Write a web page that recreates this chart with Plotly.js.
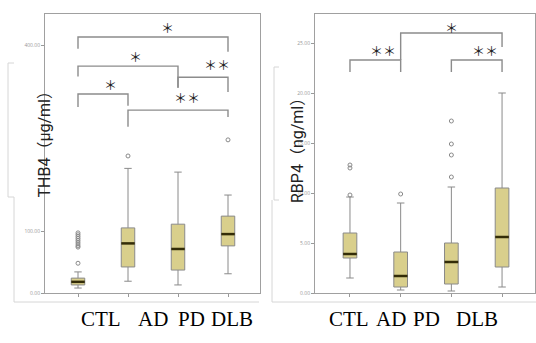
<!DOCTYPE html>
<html><head><meta charset="utf-8">
<script src="https://cdn.plot.ly/plotly-3.0.1.min.js"></script>
<style>html,body{margin:0;padding:0;background:#fff}#c{width:536px;height:343px}</style>
</head><body><div id="c"></div>
<script>
// ---- data ----
var categories = ["CTL", "AD", "PD", "DLB"];
// THB4 (left)
var thbQ1 = [13, 42, 37, 76];
var thbMedian = [18, 80, 71, 95];
var thbQ3 = [24, 105, 111, 124];
var thbLow = [8, 19, 13, 31];
var thbHigh = [34, 201, 195, 158];
var thbOutliers = [[48, 74, 76, 79, 82, 85, 88, 91, 94, 97], [221], [], [247]];
// RBP4 (right)
var rbpQ1 = [3.5, 0.6, 0.9, 2.6];
var rbpMedian = [3.9, 1.7, 3.1, 5.6];
var rbpQ3 = [6.0, 4.1, 5.0, 10.5];
var rbpLow = [1.5, 0.3, 0.2, 0.6];
var rbpHigh = [9.6, 9.0, 10.6, 20.0];
var rbpOutliers = [[9.8, 12.5, 12.8], [9.9], [11.6, 13.8, 14.9, 17.2], []];
// significance brackets: [from, to, top, legFrom, legTo]
var thbBrackets = [[0, 3, 413, 394, 389], [0, 2, 366, 349, 331], [2, 3, 348, 331, 324], [0, 1, 321, 300, 302], [1, 3, 295, 268, 284]];
var thbStars = [["＊", 1.78, 429], ["＊", 1.14, 382], ["＊＊", 2.78, 368], ["＊", 0.64, 337], ["＊＊", 2.18, 315]];
var rbpBrackets = [[0, 1, 23.3, 22.1, 22.1], [2, 3, 23.3, 22.1, 22.1], [1, 3, 26.0, 23.3, 24.6]];
var rbpStars = [["＊＊", 0.65, 24.3], ["＊＊", 2.66, 24.3], ["＊", 2.01, 26.6]];
var thbTicks = [0, 100, 400];
var rbpTicks = [0, 5, 10, 15, 20, 25];

// ---- helpers ----
var W = 536, H = 343;
function px(x) { return x / W; }
function py(y) { return 1 - y / H; }
var idx = categories.map(function (c, i) { return i; });
var boxFill = "#d9cf8c", boxLine = "#8a8a8a", medColor = "#332c08";
var BW = 0.27;

function boxTrace(q1, med, q3, lo, hi, xa, ya) {
  return {type: "box", x: idx, q1: q1, median: med, q3: q3, lowerfence: lo, upperfence: hi,
    xaxis: xa, yaxis: ya, width: BW, whiskerwidth: 0.55, fillcolor: boxFill,
    line: {color: boxLine, width: 1}, boxpoints: false, hoverinfo: "skip"};
}
function medTrace(med, xa, ya) {
  var xs = [], ys = [];
  med.forEach(function (m, i) { xs.push(i - BW / 2, i + BW / 2, null); ys.push(m, m, null); });
  return {type: "scatter", mode: "lines", x: xs, y: ys, xaxis: xa, yaxis: ya,
    line: {color: medColor, width: 2.5}, hoverinfo: "skip"};
}
function outTrace(outs, xa, ya) {
  var xs = [], ys = [];
  outs.forEach(function (arr, i) { arr.forEach(function (v) { xs.push(i); ys.push(v); }); });
  return {type: "scatter", mode: "markers", x: xs, y: ys, xaxis: xa, yaxis: ya,
    marker: {symbol: "circle-open", size: 4, color: "#8a8a8a", line: {width: 1, color: "#8a8a8a"}}, hoverinfo: "skip"};
}
function bracketShapes(br, xr, yr) {
  return br.map(function (b) {
    return {type: "path", xref: xr, yref: yr, layer: "above",
      path: "M" + b[0] + "," + b[3] + " L" + b[0] + "," + b[2] + " L" + b[1] + "," + b[2] + " L" + b[1] + "," + b[4],
      line: {color: "#8c8c8c", width: 1.4}};
  });
}
function starAnns(st, xr, yr) {
  return st.map(function (s) {
    return {text: s[0], x: s[1], y: s[2], xref: xr, yref: yr, showarrow: false,
      font: {family: "Noto Sans CJK JP", size: 13, color: "#222"}};
  });
}

var data = [
  boxTrace(thbQ1, thbMedian, thbQ3, thbLow, thbHigh, "x", "y"),
  medTrace(thbMedian, "x", "y"),
  outTrace(thbOutliers, "x", "y"),
  boxTrace(rbpQ1, rbpMedian, rbpQ3, rbpLow, rbpHigh, "x2", "y2"),
  medTrace(rbpMedian, "x2", "y2"),
  outTrace(rbpOutliers, "x2", "y2")
];

var axX = {showgrid: false, zeroline: false, showline: true, mirror: true, linecolor: "#a0a0a0", linewidth: 1,
  ticks: "outside", ticklen: 3, tickcolor: "#999", tickvals: idx, showticklabels: false, fixedrange: true};
var axY = {showgrid: false, zeroline: false, showline: true, mirror: true, linecolor: "#a0a0a0", linewidth: 1,
  ticks: "outside", ticklen: 3, tickcolor: "#999", tickfont: {size: 5, color: "#999"}, tickformat: ".2f"};

var catPosL = [79, 136, 191, 232], catPosR = [349, 408, 442, 500];
var annotations = [].concat(
  starAnns(thbStars, "x", "y"),
  starAnns(rbpStars, "x2", "y2"),
  categories.map(function (c, i) {
    return {text: c, x: px(catPosL[i]), y: py(333), xref: "paper", yref: "paper", showarrow: false,
      font: {family: "Liberation Serif", size: 21, color: "#000"}};
  }),
  categories.map(function (c, i) {
    return {text: c, x: px(catPosR[i]), y: py(333), xref: "paper", yref: "paper", showarrow: false,
      font: {family: "Liberation Serif", size: 21, color: "#000"}};
  }),
  [
    {text: "THB4（μg/ml）", x: px(32), y: py(140), xref: "paper", yref: "paper", showarrow: false, textangle: -90,
      font: {family: "Roboto, Noto Sans CJK JP", size: 16, color: "#222"}},
    {text: "RBP4（ng/ml）", x: px(297), y: py(147), xref: "paper", yref: "paper", showarrow: false, textangle: -90,
      font: {family: "Roboto, Noto Sans CJK JP", size: 16, color: "#222"}}
  ]
);

var frame = "#d6d6d6";
var shapes = [].concat(
  bracketShapes(thbBrackets, "x", "y"),
  bracketShapes(rbpBrackets, "x2", "y2"),
  [
    {type: "path", xref: "paper", yref: "paper", path: "M" + px(14) + "," + py(63) + " L" + px(8) + "," + py(63) + " L" + px(8) + "," + py(197) + " L" + px(14) + "," + py(197), line: {color: frame, width: 1}},
    {type: "path", xref: "paper", yref: "paper", path: "M" + px(14) + "," + py(197) + " L" + px(14) + "," + py(302) + " L" + px(259) + "," + py(302), line: {color: frame, width: 1}},
    {type: "path", xref: "paper", yref: "paper", path: "M" + px(279) + "," + py(67) + " L" + px(274) + "," + py(67) + " L" + px(274) + "," + py(200) + " L" + px(279) + "," + py(200), line: {color: frame, width: 1}},
    {type: "path", xref: "paper", yref: "paper", path: "M" + px(272) + "," + py(200) + " L" + px(272) + "," + py(302) + " L" + px(536) + "," + py(302), line: {color: frame, width: 1}}
  ]
);

var layout = {
  width: W, height: H, margin: {l: 0, r: 0, t: 0, b: 0},
  paper_bgcolor: "#fff", plot_bgcolor: "#fff", showlegend: false,
  xaxis: Object.assign({}, axX, {domain: [px(45), px(260)], range: [-0.66, 3.64], anchor: "y"}),
  yaxis: Object.assign({}, axY, {domain: [py(293), py(14)], range: [0, 450], tickvals: thbTicks, anchor: "x"}),
  xaxis2: Object.assign({}, axX, {domain: [px(315), px(535)], range: [-0.69, 3.65], anchor: "y2"}),
  yaxis2: Object.assign({}, axY, {domain: [py(293), py(14)], range: [0, 27.9], tickvals: rbpTicks, anchor: "x2"}),
  shapes: shapes, annotations: annotations
};

Plotly.newPlot("c", data, layout, {staticPlot: true, displayModeBar: false});
</script></body></html>
